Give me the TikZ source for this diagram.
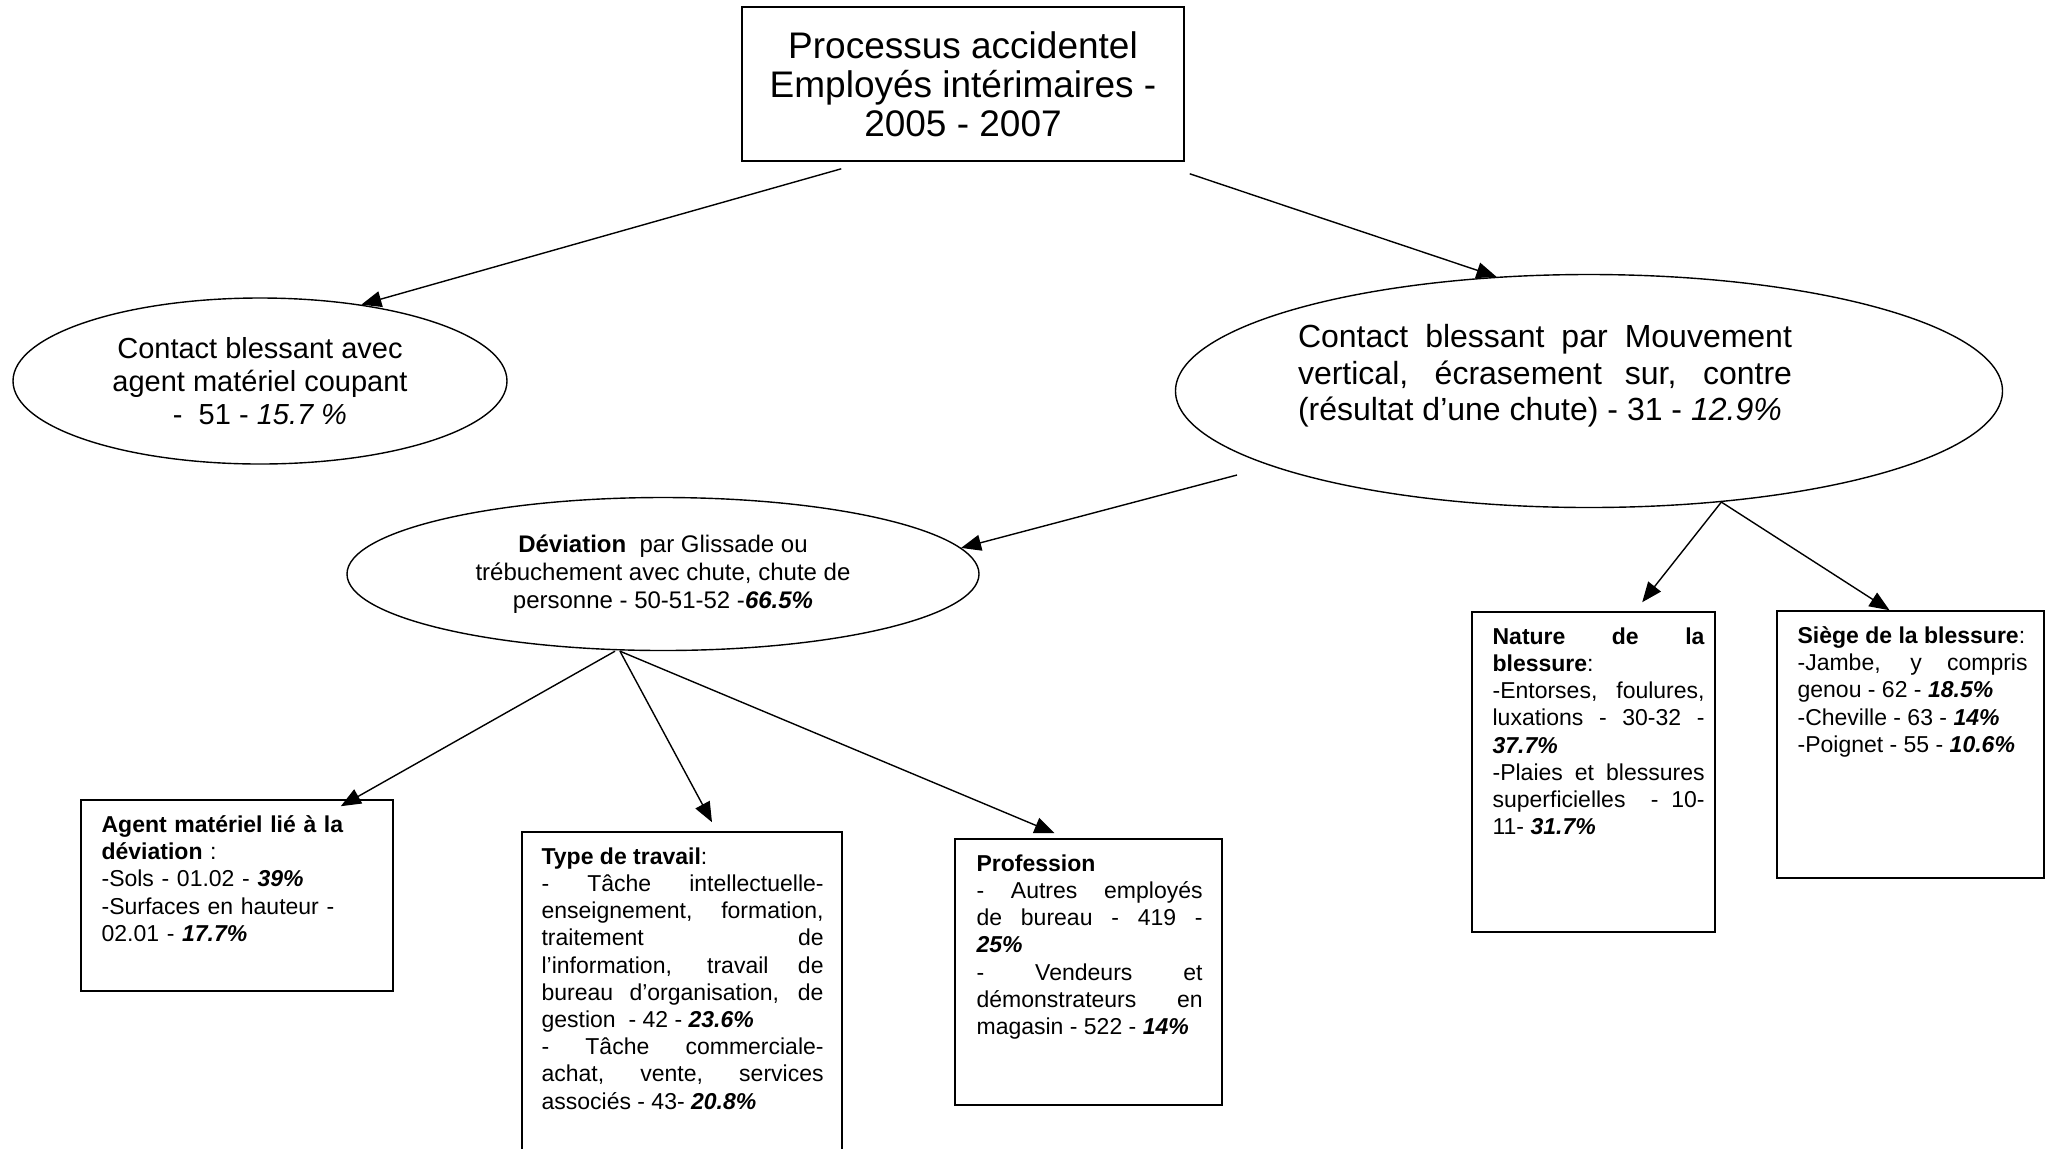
\documentclass[tikz,border=0pt]{standalone}
\usepackage{fontspec}
\setmainfont{Liberation Sans}
\usetikzlibrary{calc,shapes.geometric,arrows.meta}
\hyphenpenalty=10000

\begin{document}
\begin{tikzpicture}[x=0.5pt,y=-0.5pt,
  fleche/.style={-{Triangle[length=10pt,width=8pt]},line width=0.7pt},
  bulle/.style={ellipse,draw,line width=0.7pt,inner sep=0pt},
  cadre/.style={draw,line width=0.8pt,inner sep=0pt},
  texte/.style={anchor=north west,inner sep=0pt,align=justify,font=\fontsize{11.5}{13.6}\selectfont}]
\clip (0,0) rectangle (2053,1148);
\fill[white] (0,0) rectangle (2053,1148);

\node[cadre,minimum width=221pt,minimum height=77pt,align=center,font=\fontsize{18.5}{19.4}\selectfont] (titre) at (963,84) {Processus accidentel\\Employés intérimaires -\\2005 - 2007};

% niveau 1
\node[bulle,minimum width=247pt,minimum height=83pt,align=center,font=\fontsize{14.5}{16.5}\selectfont] (coupant) at (260,381) {Contact blessant avec\\agent matériel coupant\\-\ \ 51 - \textit{15.7 \%}};
\node[bulle,minimum width=413.5pt,minimum height=116.5pt] (chute) at (1589,391) {};
\node[inner sep=0pt,text width=247pt,align=justify,font=\fontsize{16}{18.3}\selectfont] (chutetxt) at (1545,376) {Contact blessant par Mouvement\linebreak vertical, écrasement sur, contre\linebreak (résultat d’une chute) - 31 - \textit{12.9\%}};

% niveau 2
\node[bulle,minimum width=316pt,minimum height=76.5pt,align=center,font=\fontsize{12}{14}\selectfont] (dev) at (663,574) {\textbf{Déviation}\ \ par Glissade ou\\trébuchement avec chute, chute de\\personne - 50-51-52 -\textbf{\textit{66.5\%}}};

% cadres
\node[cadre,minimum width=156pt,minimum height=95.5pt] (agent) at (237,895.5) {};
\node[texte,text width=140pt,align=left] (agenttxt) at ($(agent.north west)+(21,16)$) {\textbf{Agent matériel lié à la}\\\textbf{déviation} :\\-Sols - 01.02 - \textbf{\textit{39\%}}\\-Surfaces en hauteur -\\02.01 - \textbf{\textit{17.7\%}}};

\node[cadre,minimum width=160pt,minimum height=174pt] (work) at (682,1006) {};
\node[texte,text width=141pt] (worktxt) at ($(work.north west)+(20,16)$) {\textbf{Type de travail}:\\
- Tâche intellectuelle-\linebreak
enseignement, formation,\linebreak
traitement de\linebreak
l’information, travail de\linebreak
bureau d’organisation, de\linebreak
gestion\ \ - 42 - \textbf{\textit{23.6\%}}\\
- Tâche commerciale-\linebreak
achat, vente, services\linebreak
associés - 43- \textbf{\textit{20.8\%}}};

\node[cadre,minimum width=133.5pt,minimum height=133pt] (job) at (1088.5,972) {};
\node[texte,text width=113pt] (jobtxt) at ($(job.north west)+(22,16)$) {\textbf{Profession}\\
- Autres employés\linebreak
de bureau - 419 -\linebreak
\textbf{\textit{25\%}}\\
- Vendeurs et\linebreak
démonstrateurs en\linebreak
magasin - 522 - \textbf{\textit{14\%}}};

\node[cadre,minimum width=121.5pt,minimum height=160pt] (nature) at (1593.5,772) {};
\node[texte,text width=106pt] (naturetxt) at ($(nature.north west)+(21,16)$) {\textbf{Nature de la}\linebreak
\textbf{blessure}:\\
-Entorses, foulures,\linebreak
luxations - 30-32 -\linebreak
\textbf{\textit{37.7\%}}\\
-Plaies et blessures\linebreak
superficielles\ \ - 10-\linebreak
11- \textbf{\textit{31.7\%}}};

\node[cadre,minimum width=133.5pt,minimum height=133.5pt] (siege) at (1910.5,744.5) {};
\node[texte,text width=115pt] (siegetxt) at ($(siege.north west)+(21,16)$) {\textbf{Siège de la blessure}:\\
-Jambe, y compris\linebreak
genou - 62 - \textbf{\textit{18.5\%}}\\
-Cheville - 63 - \textbf{\textit{14\%}}\\
-Poignet - 55 - \textbf{\textit{10.6\%}}};

% fleches
\draw[fleche] ($(titre.south west)+(100,7)$) -- (coupant.37);
\draw[fleche] ($(titre.south east)+(5,12)$) -- (chute.129);
\draw[fleche] ($(chute.center)+(-352,84)$) -- (dev.5);
\draw[fleche] (chute.-40) -- ($(nature.north west)+(171,-9)$);
\draw[fleche] (chute.-40) -- ($(siege.north)+(-21,0)$);
\draw[fleche] ($(dev.south)+(-48,0)$) -- ($(agent.north east)+(-53,7)$);
\draw[fleche] ($(dev.south)+(-43,0)$) -- ($(work.north)+(30,-9)$);
\draw[fleche] ($(dev.south)+(-43,0)$) -- ($(job.north)+(-34,-5)$);
\end{tikzpicture}
\end{document}
